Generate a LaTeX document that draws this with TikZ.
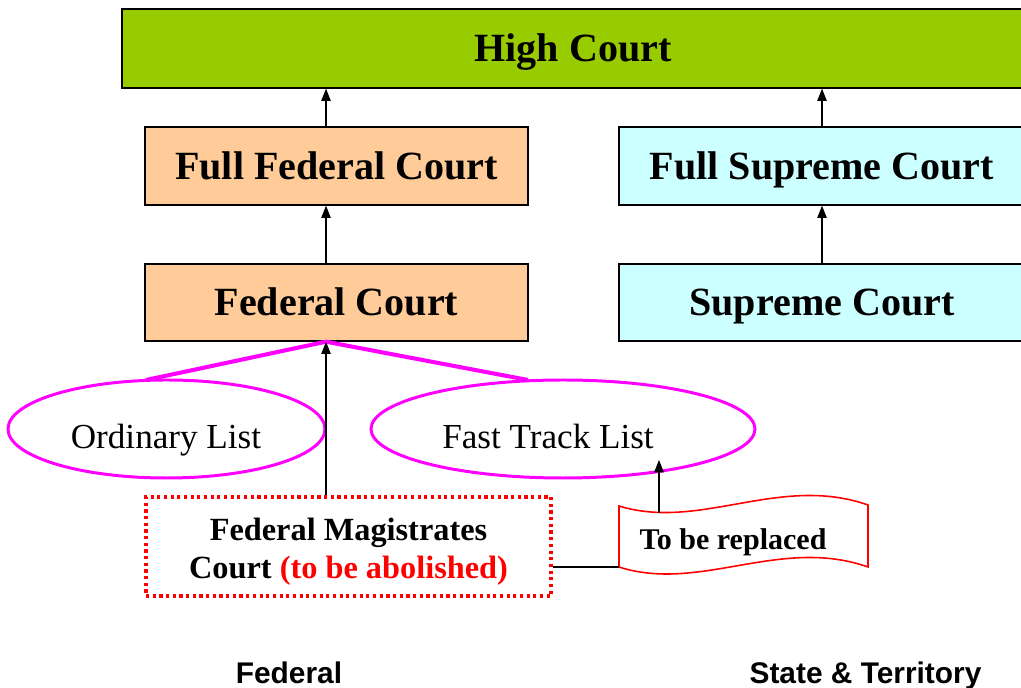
\documentclass[tikz,border=0pt]{standalone}
\usepackage{fontspec}
\setmainfont{Liberation Serif}
\newfontfamily\arialf{Liberation Sans}
\usetikzlibrary{shapes.geometric,arrows.meta}
\definecolor{hcgreen}{HTML}{99CC00}
\definecolor{peach}{HTML}{FFCC99}
\definecolor{paleblue}{HTML}{CCFFFF}
\definecolor{pmag}{HTML}{FF00FF}
\definecolor{pred}{HTML}{FF0000}
\tikzset{
  courtbox/.style={draw=black, line width=0.8pt, inner sep=0pt, text height=15.1pt, text depth=0pt, font=\fontsize{22.8}{26}\selectfont\bfseries},
  listell/.style={draw=pmag, line width=1.7pt, ellipse, inner sep=0pt},
  listtext/.style={text height=13.2pt, text depth=0pt, font=\fontsize{20}{24}\selectfont},
  uparrow/.style={-{Triangle[length=7pt,width=5.4pt]}, line width=0.6pt, black},
  magline/.style={draw=pmag, line width=2.3pt},
  lbl/.style={text height=12.2pt, text depth=0pt, font=\arialf\bfseries\fontsize{17}{20}\selectfont},
}
\begin{document}
\begin{tikzpicture}[x=0.02cm,y=-0.02cm]
\useasboundingbox (0,0) rectangle (1021,688);
\clip (0,0) rectangle (1021,688);
\coordinate (fx) at (326,0);
% boxes
\node[courtbox, fill=hcgreen, minimum width=902*0.02cm, minimum height=79*0.02cm] (hc) at (573,48.5) {High Court};
\node[courtbox, fill=peach, minimum width=383*0.02cm, minimum height=78*0.02cm] (ffc) at (336.5,166) {Full Federal Court};
\node[courtbox, fill=peach, minimum width=383*0.02cm, minimum height=77*0.02cm] (fc) at (336.5,302.5) {Federal Court};
\node[courtbox, fill=paleblue, minimum width=406*0.02cm, minimum height=78*0.02cm] (fsc) at (822,166) {Full Supreme Court};
\node[courtbox, fill=paleblue, minimum width=406*0.02cm, minimum height=77*0.02cm] (sc) at (822,302.5) {Supreme Court};
% ellipses
\node[listell, minimum width=317*0.02cm, minimum height=98*0.02cm] (ol) at (166.5,429) {};
\node[listtext] (olt) at (166,436.5) {Ordinary List};
\node[listell, minimum width=384*0.02cm, minimum height=98*0.02cm] (ft) at (563,429) {};
\node[listtext] (ftt) at (548,436.5) {Fast Track List};
% magistrates
\node[draw=pred, dotted, line width=1.8pt, minimum width=405*0.02cm, minimum height=99*0.02cm, inner sep=0pt] (fmc) at (348.5,546.5) {};
\node[align=center, font=\fontsize{18.4}{21.6}\selectfont\bfseries] (fmct) at (348.5,552)
      {Federal Magistrates\\Court \textcolor{pred}{(to be abolished)}};
% wave banner
\coordinate (w1) at (619,506);
\coordinate (w2) at (868,505);
\coordinate (w3) at (868,567);
\coordinate (w4) at (619,567);
\draw[pred, line width=0.9pt, fill=white]
  (w1) .. controls (700,531) and (780,474) .. (w2) -- (w3)
  .. controls (780,536) and (700,593) .. (w4) -- cycle;
\node[text height=11.3pt, text depth=0pt, font=\fontsize{17.1}{20}\selectfont\bfseries] (tbr) at (733,540) {To be replaced};
\coordinate (tbrtop) at (659,513);
\coordinate (fttip) at (659,460);
% connectors
\draw[uparrow] (ffc.north -| fx) -- (hc.south -| fx);
\draw[uparrow] (fsc.north) -- (fsc.north |- hc.south);
\draw[uparrow] (fc.north -| fx) -- (ffc.south -| fx);
\draw[uparrow] (sc.north) -- (fsc.south);
\coordinate (olr) at (146,380);
\coordinate (ftl) at (528,380);
\draw[magline] (olr) -- (fc.south -| fx) -- (ftl);
\draw[uparrow] (fmc.north -| fx) -- (fc.south -| fx);
\draw[uparrow] (tbrtop) -- (fttip);
\draw[line width=0.8pt] (fmc.east |- w4) -- (w4);
% labels
\node[lbl] (fed) at (289,672.5) {Federal};
\node[lbl] (st) at (865.5,672.5) {State \& Territory};
\end{tikzpicture}
\end{document}
